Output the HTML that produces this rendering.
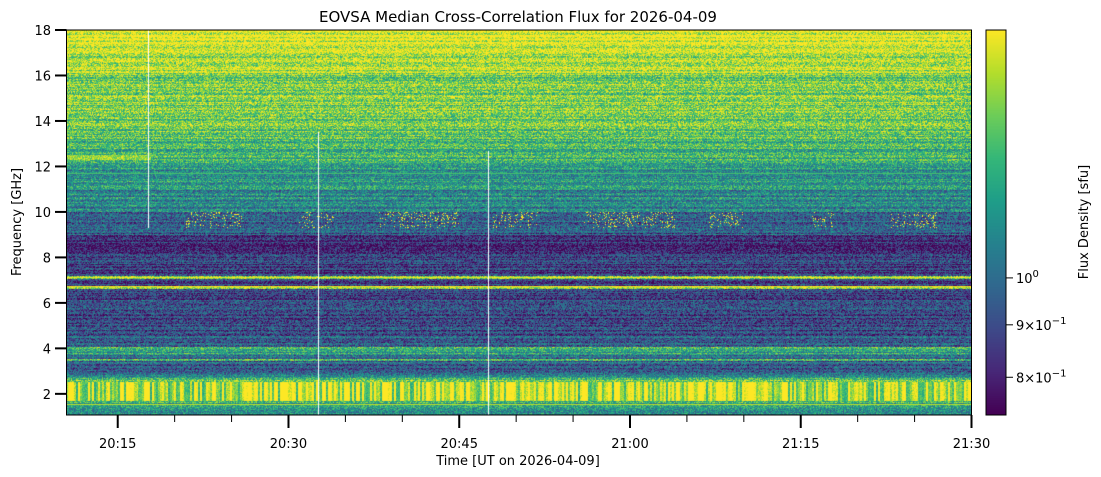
<!DOCTYPE html>
<html><head><meta charset="utf-8"><style>
html,body{margin:0;padding:0;background:#fff;}
#wrap{position:relative;width:1101px;height:477px;overflow:hidden;font-family:"DejaVu Sans","Liberation Sans",sans-serif;}
canvas{position:absolute;}
</style></head><body>
<div id="wrap">
<canvas id="hm" width="905" height="385" style="left:66px;top:30px"></canvas>
<canvas id="cb" width="20" height="385" style="left:986px;top:30px"></canvas>
<svg id="ax" width="1101" height="477" style="position:absolute;left:0;top:0"></svg>
</div>
<script>
// ---- data ----
const segStart = [1.07,1.5,1.7,2.5,2.7,2.85,3.45,3.55,3.7,3.85,4.05,4.6,5.5,6.0,6.6,6.75,7.05,7.2,8.0,9.0,10.0,11.0,12.0,12.8,13.5,14.5,16.0,17.0];
const segEnd   = [1.5,1.7,2.5,2.7,2.85,3.45,3.55,3.7,3.85,4.05,4.6,5.5,6.0,6.6,6.75,7.05,7.2,8.0,9.0,10.0,11.0,12.0,12.8,13.5,14.5,16.0,17.0,18.0];
const segLevel = [0.5,0.62,0.93,0.72,0.45,0.32,0.65,0.3,0.55,0.65,0.3,0.22,0.3,0.22,0.9,0.22,0.9,0.18,0.15,0.3,0.45,0.53,0.62,0.68,0.74,0.8,0.88,0.98];
const lineFreqs = [7.1,6.7,11.7,1.55];
const lineLevels = [0.95,0.95,0.7,0.9];
const gapTimes = [17.7,32.6,47.6];
const gapTop = [18,13.5,12.7];
const gapBottom = [9.3,1.07,1.07];
const burstStart = [21,31,38,48,56,67,76,83];
const burstEnd = [26,34,45,52,64,70,78,87];
const band124 = [10.5,18];
const xTickMin = [15,30,45,60,75,90];
const xTickLabels = ["20:15","20:30","20:45","21:00","21:15","21:30"];
const xMinorMin = [20,25,35,40,50,55,65,70,80,85];
const yTicks = [2,4,6,8,10,12,14,16,18];
const cbTicks = [1.0,0.9,0.8];
const cbLabels = ["10<tspan dy='-6' font-size='10'>0</tspan>","9\u00d710<tspan dy='-6' font-size='10'>\u22121</tspan>","8\u00d710<tspan dy='-6' font-size='10'>\u22121</tspan>"];
const vmin=0.735, vmax=1.745;

// ---- scales ----
const PX=66.5, PW=905, PY=30, PH=385;
const tMin=10.5, tMax=90, fMin=1.07, fMax=18;
const xs = t => PX + (t-tMin)/(tMax-tMin)*PW;
const ys = f => PY + (fMax-f)/(fMax-fMin)*PH;

const vir=[[68,1,84],[72,40,120],[62,74,137],[49,104,142],[38,130,142],[31,158,137],[53,183,121],[109,205,89],[180,222,44],[253,231,37]];
function cmap(v){v=Math.max(0,Math.min(1,v));const p=v*9,i=Math.min(8,Math.floor(p)),f=p-i;const a=vir[i],b=vir[i+1];return [a[0]+(b[0]-a[0])*f,a[1]+(b[1]-a[1])*f,a[2]+(b[2]-a[2])*f];}
function h(a,b){let n=(a*374761393+b*668265263)|0;n=(n^(n>>>13))*1274126177|0;return ((n^(n>>>16))>>>0)/4294967295;}

// ---- heatmap ----
const hm=document.getElementById('hm'),ctx=hm.getContext('2d');
const img=ctx.createImageData(PW,385);
const dfRow=(fMax-fMin)/385;
const gapCols=gapTimes.map(t=>Math.floor(xs(t)-66));
for(let y=0;y<385;y++){
  const f=fMax-(y+0.5)*dfRow;
  let lv=0.4;
  for(let s=0;s<segStart.length;s++) if(f>=segStart[s]&&f<segEnd[s]) lv=segLevel[s];
  const rowOff=(h(y,7)-0.5)*0.25;
  for(let x=0;x<PW;x++){
    const t=tMin+(x+0.5)/PW*(tMax-tMin);
    let v=lv+rowOff+(h(x,y)-0.5)*0.45;
    if(f>1.7&&f<2.5) v=lv+(h(x>>1,99)-0.5)*0.6+(h(x,y)-0.5)*0.2;
    if(f>12.3&&f<12.5&&t>=band124[0]&&t<=band124[1]) v=Math.max(v,0.85+(h(x,y)-0.5)*0.3);
    for(let l=0;l<lineFreqs.length;l++) if(Math.abs(f-lineFreqs[l])<dfRow*0.5) v=Math.max(v,lineLevels[l]);
    if(f>9.3&&f<10.0) for(let b=0;b<burstStart.length;b++) if(t>=burstStart[b]&&t<=burstEnd[b]&&h(x,y+3)>0.9) v=1;
    let c=cmap(v);
    for(let g=0;g<gapCols.length;g++) if(x===gapCols[g]&&f<=gapTop[g]&&f>=gapBottom[g]) c=[255,255,255];
    const k=(y*PW+x)*4;img.data[k]=c[0];img.data[k+1]=c[1];img.data[k+2]=c[2];img.data[k+3]=255;
  }
}
ctx.putImageData(img,0,0);

// ---- colorbar ----
const cb=document.getElementById('cb'),c2=cb.getContext('2d');
for(let y=0;y<385;y++){const c=cmap(1-y/384);c2.fillStyle=`rgb(${c[0]|0},${c[1]|0},${c[2]|0})`;c2.fillRect(0,y,20,1);}

// ---- axes svg ----
const svg=document.getElementById('ax');let s='';
s+=`<rect x="${PX}" y="${PY}" width="${PW}" height="${PH}" fill="none" stroke="#000" stroke-width="1"/>`;
s+=`<rect x="986" y="30" width="20" height="385" fill="none" stroke="#000" stroke-width="1"/>`;
xTickMin.forEach((m,i)=>{const x=xs(m);s+=`<line x1="${x}" y1="415" x2="${x}" y2="428" stroke="#000" stroke-width="2"/><text x="${x}" y="448" font-size="13" text-anchor="middle">${xTickLabels[i]}</text>`;});
xMinorMin.forEach(m=>{const x=xs(m);s+=`<line x1="${x}" y1="415" x2="${x}" y2="422" stroke="#000" stroke-width="1"/>`;});
yTicks.forEach(f=>{const y=ys(f);s+=`<line x1="55" y1="${y}" x2="${PX}" y2="${y}" stroke="#000" stroke-width="2"/><text x="51" y="${y+5}" font-size="13" text-anchor="end">${f}</text>`;});
const cbY=v=>415-(Math.log10(v)-Math.log10(vmin))/(Math.log10(vmax)-Math.log10(vmin))*385;
cbTicks.forEach((v,i)=>{const y=cbY(v);s+=`<line x1="1006" y1="${y}" x2="1013" y2="${y}" stroke="#000" stroke-width="1"/><text x="1016" y="${y+5}" font-size="13">${cbLabels[i]}</text>`;});
s+=`<text x="518" y="22" font-size="15" text-anchor="middle">EOVSA Median Cross-Correlation Flux for 2026-04-09</text>`;
s+=`<text x="518" y="465" font-size="13" text-anchor="middle">Time [UT on 2026-04-09]</text>`;
s+=`<text transform="translate(21,222) rotate(-90)" font-size="13" text-anchor="middle">Frequency [GHz]</text>`;
s+=`<text transform="translate(1088,222) rotate(-90)" font-size="13" text-anchor="middle">Flux Density [sfu]</text>`;
svg.innerHTML=s;
</script>
</body></html>
